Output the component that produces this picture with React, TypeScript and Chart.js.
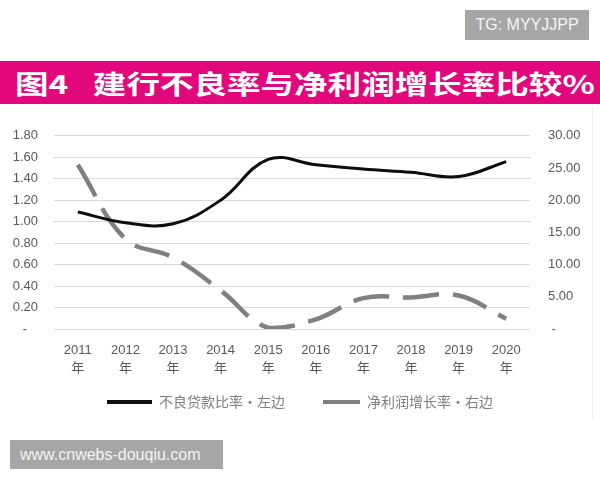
import React, { useEffect, useRef } from 'react';
import { Chart, registerables } from 'chart.js';

Chart.register(...registerables);

// ---- data ----
const years = ['2011', '2012', '2013', '2014', '2015', '2016', '2017', '2018', '2019', '2020'];
const yearSuffix = '年';
const nplRatio = [1.09, 0.99, 0.98, 1.2, 1.58, 1.53, 1.49, 1.46, 1.42, 1.56];
const profitGrowth = [25.5, 14.0, 11.1, 6.0, 0.2, 1.5, 4.8, 4.9, 5.2, 1.6];
const nplLabel = '不良贷款比率·左边';
const profitLabel = '净利润增长率·右边';
const titleHead = '图4';
const titleBody = '建行不良率与净利润增长率比较%';
const tgText = 'TG: MYYJJPP';
const siteText = 'www.cnwebs-douqiu.com';
const leftMax = 1.8;
const leftStep = 0.2;
const rightMax = 30;
const rightStep = 5;

const tickFont = "'Liberation Sans', 'Noto Sans CJK SC', sans-serif";
const cjkFont = "'Noto Sans CJK SC', sans-serif";

export default function App() {
  const canvasRef = useRef<HTMLCanvasElement>(null);

  useEffect(() => {
    if (!canvasRef.current) return;
    const shiftLegend = {
      id: 'shiftLegend',
      afterLayout(chart: any) {
        const lg = chart.legend;
        if (lg) {
          lg.top -= 16;
          lg.bottom -= 16;
        }
      },
    };
    const chart = new Chart(canvasRef.current, {
      type: 'line',
      data: {
        labels: years.map((y) => [y, yearSuffix]),
        datasets: [
          {
            label: nplLabel,
            data: nplRatio,
            borderColor: '#0d0d0d',
            backgroundColor: '#0d0d0d',
            borderWidth: 3,
            tension: 0.4,
            pointRadius: 0,
            fill: false,
            yAxisID: 'yL',
          },
          {
            label: profitLabel,
            data: profitGrowth,
            borderColor: '#808080',
            backgroundColor: '#808080',
            borderWidth: 4.5,
            borderDash: [36, 14],
            borderCapStyle: 'butt',
            tension: 0.4,
            pointRadius: 0,
            fill: false,
            yAxisID: 'yR',
          },
        ],
      },
      options: {
        animation: false,
        responsive: false,
        layout: { padding: { top: 22, left: 0, right: 0, bottom: 0 } },
        plugins: {
          tooltip: { enabled: false },
          legend: {
            position: 'bottom',
            labels: {
              usePointStyle: true,
              pointStyle: 'line',
              pointStyleWidth: 45,
              padding: 30,
              color: '#7f7f7f',
              font: { family: cjkFont, size: 14 },
              generateLabels(ch: any) {
                const items = (Chart.defaults.plugins.legend.labels as any).generateLabels(ch);
                items.forEach((it: any) => {
                  it.pointStyle = 'line';
                  it.lineWidth = 4;
                });
                if (items[1]) {
                  items[1].lineDash = [37, 50];
                  items[1].lineDashOffset = 79;
                }
                return items;
              },
            },
          },
        },
        scales: {
          x: {
            type: 'category',
            offset: true,
            grid: { display: false, drawTicks: false },
            border: { display: false },
            ticks: {
              color: '#595959',
              font: { family: tickFont, size: 13, lineHeight: '18px' },
              padding: 12,
              maxRotation: 0,
              autoSkip: false,
            },
            afterFit(s: any) {
              s.height = 52;
            },
          },
          yL: {
            type: 'linear',
            position: 'left',
            min: 0,
            max: leftMax,
            grid: { color: '#D9D9D9', lineWidth: 1, drawTicks: false },
            border: { display: false },
            ticks: {
              stepSize: leftStep,
              padding: 16,
              color: '#595959',
              font: { family: tickFont, size: 13 },
              callback: (v: any) => (Math.abs(Number(v)) < 1e-9 ? '-   ' : Number(v).toFixed(2)),
            },
            afterFit(s: any) {
              s.width = 54;
            },
          },
          yR: {
            type: 'linear',
            position: 'right',
            min: 0,
            max: rightMax,
            grid: { display: false, drawTicks: false },
            border: { display: false },
            ticks: {
              stepSize: rightStep,
              padding: 18,
              color: '#595959',
              font: { family: tickFont, size: 13 },
              callback: (v: any) => (Math.abs(Number(v)) < 1e-9 ? ' -' : Number(v).toFixed(2)),
            },
            afterFit(s: any) {
              s.width = 70;
            },
          },
        },
      },
      plugins: [shiftLegend],
    } as any);
    return () => chart.destroy();
  }, []);

  return (
    <div
      style={{
        position: 'fixed',
        left: 0,
        top: 0,
        width: 600,
        height: 480,
        background: '#ffffff',
        overflow: 'hidden',
      }}
    >
      <div
        style={{
          position: 'absolute',
          left: 465,
          top: 10,
          width: 124,
          height: 30,
          background: '#A6A6A6',
          color: '#F4F4F4',
          fontFamily: "'Liberation Sans', Arial, sans-serif",
          fontSize: 16,
          lineHeight: '30px',
          textAlign: 'center',
          whiteSpace: 'nowrap',
        }}
      >
        {tgText}
      </div>
      <div
        style={{
          position: 'absolute',
          left: 0,
          top: 61,
          width: 600,
          height: 43,
          background: '#E2087C',
        }}
      />
      <div
        style={{
          position: 'absolute',
          left: 15,
          top: 61,
          height: 43,
          lineHeight: '43px',
          color: '#ffffff',
          fontFamily: cjkFont,
          fontWeight: 700,
          fontSize: 26,
          whiteSpace: 'nowrap',
          transform: 'scaleX(1.29)',
          transformOrigin: 'left center',
        }}
      >
        <span>{titleHead}</span>
        <span style={{ marginLeft: 19 }}>{titleBody}</span>
      </div>
      <div
        style={{
          position: 'absolute',
          left: 592,
          top: 106,
          width: 1,
          height: 314,
          background: '#EEEEEE',
        }}
      />
      <canvas
        ref={canvasRef}
        width={600}
        height={325}
        style={{ position: 'absolute', left: 0, top: 110, width: 600, height: 325, display: 'block' }}
      />
      <div
        style={{
          position: 'absolute',
          left: 10,
          top: 440,
          width: 213,
          height: 29,
          background: '#A6A6A6',
          color: '#F4F4F4',
          fontFamily: "'Liberation Sans', Arial, sans-serif",
          fontSize: 16,
          lineHeight: '29px',
          paddingLeft: 10,
          boxSizing: 'border-box',
          whiteSpace: 'nowrap',
        }}
      >
        {siteText}
      </div>
    </div>
  );
}
